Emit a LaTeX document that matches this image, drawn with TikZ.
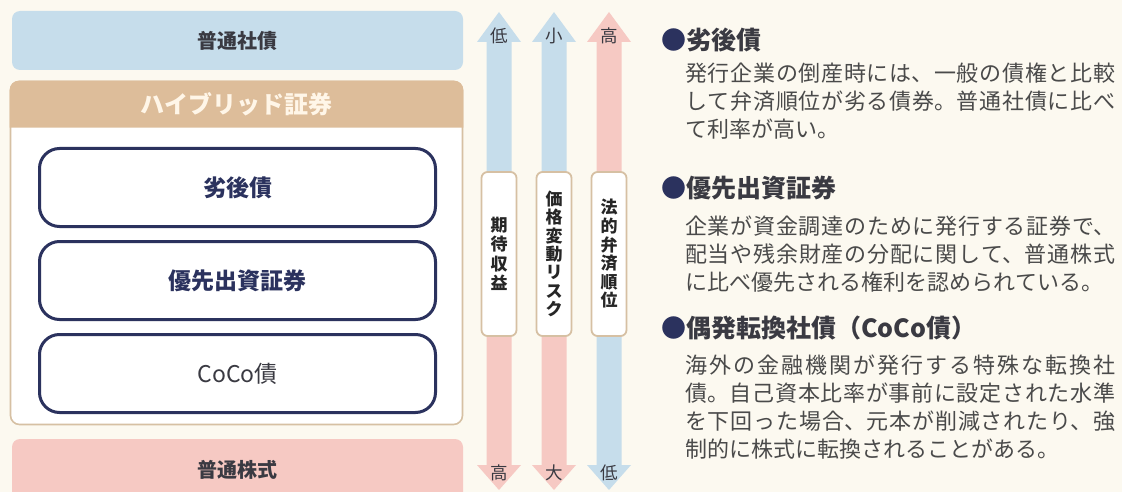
\documentclass[tikz,border=0pt]{standalone}
\usepackage{fontspec}
\setmainfont{Noto Sans CJK JP}
\XeTeXlinebreaklocale "ja"
\XeTeXlinebreakskip=0pt plus 3pt
\usetikzlibrary{positioning}

\definecolor{bgcream}{RGB}{252,249,240}
\definecolor{bondblue}{RGB}{198,221,235}
\definecolor{stockpink}{RGB}{246,201,195}
\definecolor{headtan}{RGB}{221,189,154}
\definecolor{frametan}{RGB}{214,192,163}
\definecolor{navy}{RGB}{43,50,94}
\definecolor{textgray}{RGB}{58,58,66}
\definecolor{bodygray}{RGB}{74,74,74}
\definecolor{titlecream}{RGB}{255,246,232}

\tikzset{
  bondbox/.style={rounded corners=8pt, minimum width=451pt, minimum height=59pt,
    text=textgray, font=\bfseries\fontsize{20}{20}\selectfont},
  hybridframe/.style={draw=frametan, line width=1.6pt, fill=white, rounded corners=9pt,
    minimum width=452pt, minimum height=343pt},
  innerbox/.style={draw=navy, line width=3pt, fill=white, rounded corners=20pt,
    minimum width=396pt, minimum height=78pt, text=navy,
    font=\bfseries\fontsize{23}{23}\selectfont},
  scalebox/.style={draw=frametan, line width=1.8pt, fill=white, rounded corners=6pt,
    minimum width=35pt, minimum height=164pt, inner sep=0pt, align=center,
    text=black!85, font=\bfseries\fontsize{17}{19.5}\selectfont},
  endlabel/.style={inner sep=0pt, text=textgray, font=\fontsize{17.5}{17.5}\selectfont},
  heading/.style={anchor=west, inner sep=0pt, text=textgray,
    font=\bfseries\fontsize{25}{25}\selectfont},
  bodytext/.style={anchor=north west, inner sep=0pt, text width=430pt, align=justify,
    text=bodygray, font=\fontsize{22}{28}\selectfont}
}

\begin{document}
\begin{tikzpicture}[x=1pt,y=-1pt]
\useasboundingbox[fill=bgcream] (0,0) rectangle (1122,492);

% left column
\node[bondbox, fill=bondblue] (futsushasai) at (237.5,40.5) {普通社債};
\node[hybridframe] (hybrid) at (236.5,253) {};
\fill[headtan] ([yshift=-47pt]hybrid.north west) [rounded corners=9pt] -- (hybrid.north west)
  -- (hybrid.north east) [sharp corners] -- ([yshift=-47pt]hybrid.north east) -- cycle;
\node[text=titlecream, font=\bfseries\fontsize{24}{24}\selectfont] (hybridtitle)
  at ([yshift=-24pt]hybrid.north) {ハイブリッド証券};
\node[innerbox] (retsugo) at (237.5,187.5) {劣後債};
\node[innerbox, below=12pt of retsugo] (yusen) {優先出資証券};
\node[innerbox, below=12pt of yusen, text=textgray, font=\fontsize{23}{23}\selectfont] (coco) {CoCo債};
\node[bondbox, fill=stockpink, minimum height=62pt] (futsukabu) at (237.5,470) {普通株式};

% scale arrows
\fill[bondblue] (486.5,254) -- (486.5,42) -- (477,42) -- (499,12) -- (521,42) -- (511.5,42) -- (511.5,254) -- cycle;
\fill[stockpink] (486.5,254) -- (486.5,465) -- (477,465) -- (499,490) -- (521,465) -- (511.5,465) -- (511.5,254) -- cycle;
\fill[bondblue] (541.5,254) -- (541.5,42) -- (532,42) -- (554,12) -- (576,42) -- (566.5,42) -- (566.5,254) -- cycle;
\fill[stockpink] (541.5,254) -- (541.5,465) -- (532,465) -- (554,490) -- (576,465) -- (566.5,465) -- (566.5,254) -- cycle;
\fill[stockpink] (596.5,254) -- (596.5,42) -- (587,42) -- (609,12) -- (631,42) -- (621.5,42) -- (621.5,254) -- cycle;
\fill[bondblue] (596.5,254) -- (596.5,465) -- (587,465) -- (609,490) -- (631,465) -- (621.5,465) -- (621.5,254) -- cycle;

\node[scalebox] (kitai) at (499,254) {期\\待\\収\\益};
\node[scalebox, font=\bfseries\fontsize{17}{18.3}\selectfont] (hendo) at (554,254) {価\\格\\変\\動\\リ\\ス\\ク};
\node[scalebox, font=\bfseries\fontsize{17}{18.6}\selectfont] (bensai) at (609,254) {法\\的\\弁\\済\\順\\位};

\node[endlabel] (kitaitop) at (499,36) {低};
\node[endlabel] (hendotop) at (554,36) {小};
\node[endlabel] (bensaitop) at (609,36) {高};
\node[endlabel] (kitaibot) at (499,473) {高};
\node[endlabel] (hendobot) at (554,473) {大};
\node[endlabel] (bensaibot) at (609,473) {低};

% explanations
\node[heading] (retsugohead) at (661,40) {\textcolor{navy}{●}劣後債};
\node[bodytext] (retsugotext) at (685,63) {発行企業の倒産時には、一般の債権と比較\linebreak して弁済順位が劣る債券。普通社債に比べ\linebreak て利率が高い。};

\node[heading] (yusenhead) at (661,188) {\textcolor{navy}{●}優先出資証券};
\node[bodytext] (yusentext) at (685,216) {企業が資金調達のために発行する証券で、\linebreak 配当や残余財産の分配に関して、普通株式\linebreak に比べ優先される権利を認められている。};

\node[heading] (cocohead) at (661,328) {\textcolor{navy}{●}偶発転換社債（CoCo債）};
\node[bodytext] (cocotext) at (685,355) {海外の金融機関が発行する特殊な転換社\linebreak 債。自己資本比率が事前に設定された水準\linebreak を下回った場合、元本が削減されたり、強\linebreak 制的に株式に転換されることがある。};
\end{tikzpicture}
\end{document}
